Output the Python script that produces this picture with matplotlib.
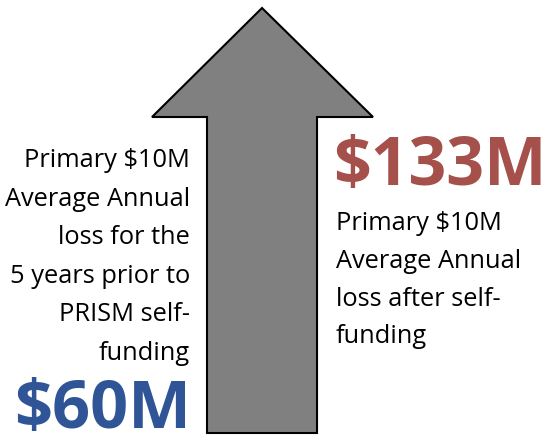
import matplotlib
matplotlib.use("Agg")
import matplotlib.pyplot as plt
from matplotlib.patches import Polygon

left_lines = ["Primary $10M", "Average Annual", "loss for the", "5 years prior to", "PRISM self-", "funding"]
right_lines = ["Primary $10M", "Average Annual", "loss after self-", "funding"]
before_value = "$60M"
after_value = "$133M"

fig = plt.figure(figsize=(5.48, 4.45), dpi=100)
ax = fig.add_axes([0, 0, 1, 1])
ax.set_xlim(0, 548)
ax.set_ylim(445, 0)
ax.axis("off")

arrow = [(262, 8), (373, 117), (317, 117), (317, 433), (207, 433), (207, 117), (152, 117)]
ax.add_patch(Polygon(arrow, closed=True, facecolor="#808080", edgecolor="black", linewidth=1.5))

font = "Open Sans"
for i, t in enumerate(left_lines):
    ax.text(190, 167 + i * 38.6, t, ha="right", va="baseline", fontsize=18.3, family=font, color="black")
ax.text(191, 428, before_value, ha="right", va="baseline", fontsize=48, family=font,
        fontweight="bold", color="#2F5597")

ax.text(333, 185, after_value, ha="left", va="baseline", fontsize=47.6, family=font,
        fontweight="bold", color="#A5504A")
for i, t in enumerate(right_lines):
    ax.text(336, 230 + i * 37.8, t, ha="left", va="baseline", fontsize=18.3, family=font, color="black")

fig.savefig("out.png", dpi=100)
